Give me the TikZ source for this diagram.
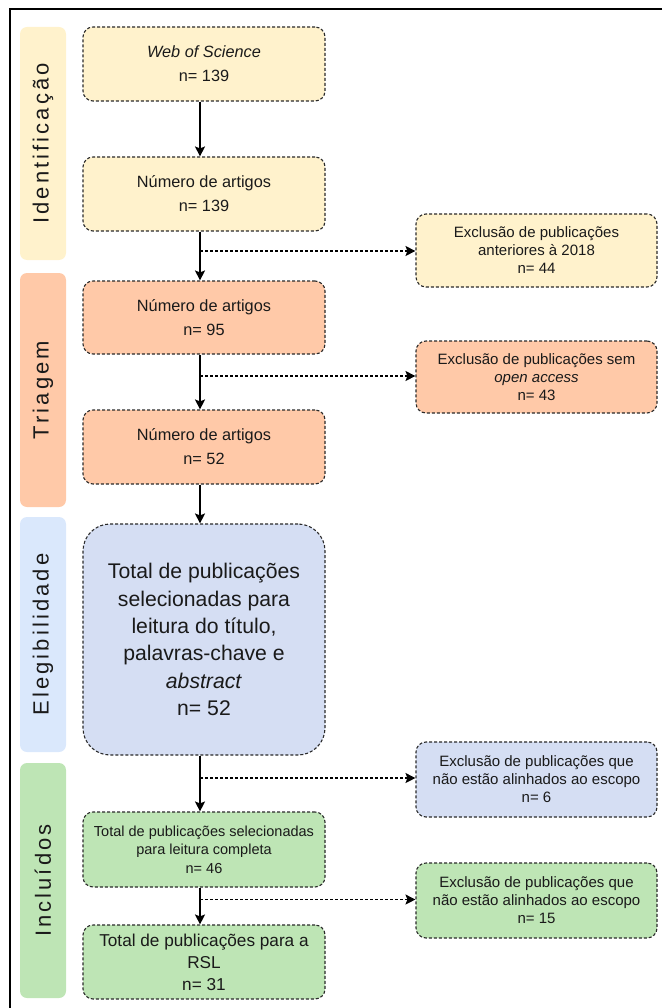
\documentclass[tikz,border=0pt]{standalone}
\usepackage{fontspec}
\setmainfont{Liberation Sans}
\usetikzlibrary{arrows.meta}
\definecolor{cyel}{HTML}{FFF2CC}
\definecolor{csal}{HTML}{FFC9A8}
\definecolor{cbluepill}{HTML}{DAE8FC}
\definecolor{cbluebox}{HTML}{D5DEF3}
\definecolor{cgreen}{HTML}{BEE5B5}
\definecolor{cedge}{HTML}{2A2A2A}
\definecolor{ctext}{HTML}{1A1A1A}
\begin{document}
\begin{tikzpicture}[x=1pt,y=-1pt,
  box/.style={draw=cedge, line width=1.1pt, dash pattern=on 3pt off 2pt,
    rounded corners=10pt, minimum width=242pt, inner sep=0pt, align=center,
    text=ctext, font=\fontsize{16.3}{24}\selectfont},
  sidebox/.style={box, minimum width=241pt, font=\fontsize{15}{18}\selectfont},
  pill/.style={rounded corners=7pt, minimum height=46pt, inner sep=0pt,
    rotate=90, text=ctext,
    font=\fontsize{22}{24}\selectfont\addfontfeatures{LetterSpace=14}},
  flow/.style={line width=1.3pt, -{Stealth[length=10pt,width=10pt,inset=2pt]}},
  branch/.style={line width=1.1pt, dash pattern=on 3pt off 2pt,
    -{Stealth[length=10pt,width=10pt,inset=2pt]}}
]
\useasboundingbox (0,0) rectangle (662,1008);
% frame
\draw[line width=1.6pt] (662,9) -- (10,9) -- (10,1008);

% phase labels
\node[pill, fill=cyel, minimum width=233pt] (pid) at (43,143.5) {Identificação};
\node[pill, fill=csal, minimum width=234pt] (ptr) at (43,390) {Triagem};
\node[pill, fill=cbluepill, minimum width=235pt] (pel) at (43,634.5) {Elegibilidade};
\node[pill, fill=cgreen, minimum width=235pt] (pin) at (43,880.5) {Incluídos};

% main column
\node[box, fill=cyel, minimum height=74pt] (wos) at (204,64) {\textit{Web of Science}\\n= 139};
\node[box, fill=cyel, minimum height=74pt] (n139) at (204,194) {Número de artigos\\n= 139};
\node[box, fill=csal, minimum height=73pt] (n95) at (204,317.5) {Número de artigos\\n= 95};
\node[box, fill=csal, minimum height=74pt] (n52) at (204,447) {Número de artigos\\n= 52};
\node[box, fill=cbluebox, minimum height=231pt, rounded corners=27pt,
  font=\fontsize{21.2}{27.3}\selectfont] (elig) at (204,639.5)
  {Total de publicações\\selecionadas para\\leitura do título,\\palavras-chave e\\\textit{abstract}\\n= 52};
\node[box, fill=cgreen, minimum height=75pt, font=\fontsize{14.5}{18.5}\selectfont] (inc) at (204,849.5)
  {Total de publicações selecionadas\\para leitura completa\\n= 46};
\node[box, fill=cgreen, minimum height=74pt, font=\fontsize{17.2}{22}\selectfont] (rsl) at (204,962)
  {Total de publicações para a\\RSL\\n= 31};

% side column
\node[sidebox, fill=cyel, minimum height=73pt] (ex1) at (536.5,250.5)
  {Exclusão de publicações\\anteriores à 2018\\n= 44};
\node[sidebox, fill=csal, minimum height=72pt] (ex2) at (536.5,377)
  {Exclusão de publicações sem\\\textit{open access}\\n= 43};
\node[sidebox, fill=cbluebox, minimum height=75pt] (ex3) at (536.5,779.5)
  {Exclusão de publicações que\\não estão alinhados ao escopo\\n= 6};
\node[sidebox, fill=cgreen, minimum height=75pt] (ex4) at (536.5,900.5)
  {Exclusão de publicações que\\não estão alinhados ao escopo\\n= 15};

% connectors
\coordinate (ax) at (200,0);
\draw[flow] (wos.south -| ax) -- (n139.north -| ax);
\draw[flow] (n139.south -| ax) -- (n95.north -| ax);
\draw[flow] (n95.south -| ax) -- (n52.north -| ax);
\draw[flow] (n52.south -| ax) -- (elig.north -| ax);
\draw[flow] (elig.south -| ax) -- (inc.north -| ax);
\draw[flow] (inc.south -| ax) -- (rsl.north -| ax);

\coordinate (b1) at (200,251);
\coordinate (b2) at (200,376);
\coordinate (b3) at (200,778);
\coordinate (b4) at (200,899.5);
\draw[branch] (b1) -- (b1 -| ex1.west);
\draw[branch] (b2) -- (b2 -| ex2.west);
\draw[branch] (b3) -- (b3 -| ex3.west);
\draw[branch] (b4) -- (b4 -| ex4.west);
\end{tikzpicture}
\end{document}
